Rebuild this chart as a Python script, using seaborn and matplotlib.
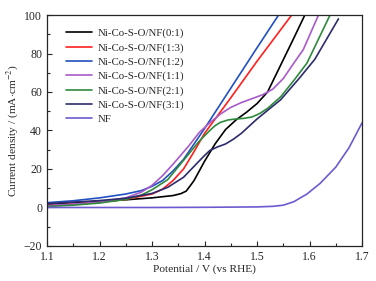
import pandas as pd
import matplotlib
matplotlib.use("Agg")
import matplotlib.pyplot as plt
from matplotlib.ticker import MultipleLocator
import seaborn as sns

# data (potential V vs RHE, current density mA/cm2)
labels = ["Ni-Co-S-O/NF(0:1)", "Ni-Co-S-O/NF(1:3)", "Ni-Co-S-O/NF(1:2)",
          "Ni-Co-S-O/NF(1:1)", "Ni-Co-S-O/NF(2:1)", "Ni-Co-S-O/NF(3:1)", "NF"]

v_01 = [1.10, 1.15, 1.20, 1.25, 1.30, 1.34, 1.355, 1.365, 1.372, 1.38, 1.39, 1.40, 1.42, 1.44, 1.46, 1.48, 1.50, 1.52, 1.545, 1.57, 1.591]
j_01 = [1.5, 2.5, 3.2, 4.0, 5.0, 6.2, 7.2, 8.5, 11, 14, 19, 24, 33, 40.5, 45.5, 49.5, 54, 60, 74, 88, 100]

v_13 = [1.10, 1.15, 1.20, 1.25, 1.30, 1.32, 1.34, 1.36, 1.38, 1.40, 1.45, 1.50, 1.566]
j_13 = [1.0, 1.8, 2.8, 4.2, 7.0, 9.5, 14, 20, 29, 38.5, 57, 76, 100]

v_12 = [1.10, 1.15, 1.20, 1.25, 1.28, 1.30, 1.32, 1.34, 1.36, 1.38, 1.40, 1.45, 1.50, 1.541]
j_12 = [2.5, 3.5, 5.0, 7.0, 8.8, 11, 14, 19, 25, 33, 41, 62, 83, 100]

v_11 = [1.10, 1.15, 1.20, 1.25, 1.28, 1.30, 1.32, 1.34, 1.37, 1.39, 1.41, 1.43, 1.45, 1.47, 1.49, 1.51, 1.53, 1.55, 1.57, 1.588, 1.617]
j_11 = [1.0, 1.8, 2.8, 5.0, 8.0, 11.5, 16.5, 22.5, 32, 39, 44, 48.5, 52, 54.5, 56.5, 58.5, 61.5, 67, 75, 82, 100]

v_21 = [1.10, 1.15, 1.20, 1.25, 1.28, 1.30, 1.33, 1.36, 1.39, 1.41, 1.42, 1.43, 1.445, 1.46, 1.475, 1.49, 1.505, 1.52, 1.545, 1.57, 1.595, 1.639]
j_21 = [0.5, 1.2, 2.3, 4.2, 6.5, 9.2, 14.5, 24.5, 34.5, 40, 42.5, 44.2, 45.5, 46, 46.3, 47, 48.8, 51.5, 57.5, 66, 75, 100]

v_31 = [1.10, 1.15, 1.20, 1.25, 1.30, 1.33, 1.36, 1.385, 1.40, 1.41, 1.425, 1.44, 1.455, 1.47, 1.50, 1.545, 1.58, 1.61, 1.655]
j_31 = [2.0, 2.8, 3.6, 4.8, 7.3, 10.5, 15.7, 22.8, 27, 29.6, 31.5, 33, 35.5, 38.5, 46, 56, 67, 77, 98]

v_nf = [1.10, 1.20, 1.30, 1.40, 1.50, 1.53, 1.55, 1.57, 1.595, 1.62, 1.65, 1.675, 1.70]
j_nf = [0.0, 0.0, 0.0, 0.1, 0.3, 0.6, 1.2, 3.0, 7.0, 12.5, 21, 31, 44]

colors = ["#000000", "#ff1f1f", "#2150c0", "#a95ac8", "#2f8a3c", "#2c2c6c", "#6d5ad0"]

series = [(v_01, j_01), (v_13, j_13), (v_12, j_12), (v_11, j_11),
          (v_21, j_21), (v_31, j_31), (v_nf, j_nf)]
frames = []
for name, (v, j) in zip(labels, series):
    frames.append(pd.DataFrame({"V": v, "J": j, "sample": name}))
df = pd.concat(frames, ignore_index=True)

sns.set_theme(style="ticks")
plt.rcParams["font.family"] = ["Liberation Serif", "DejaVu Serif"]
plt.rcParams["mathtext.fontset"] = "stix"

fig = plt.figure(figsize=(3.76, 2.81), dpi=100)
ax = fig.add_axes([0.125, 0.1246, 0.838, 0.822])

sns.lineplot(data=df, x="V", y="J", hue="sample", hue_order=labels,
             palette=dict(zip(labels, colors)), sort=False, estimator=None,
             linewidth=1.2, ax=ax)

ax.set_xlim(1.1, 1.7)
ax.set_ylim(-20, 100)
ax.xaxis.set_major_locator(MultipleLocator(0.1))
ax.xaxis.set_minor_locator(MultipleLocator(0.05))
ax.yaxis.set_major_locator(MultipleLocator(20))
ax.yaxis.set_minor_locator(MultipleLocator(10))
ax.tick_params(which="both", direction="in", labelsize=8.5, width=0.8)
ax.tick_params(which="major", length=3.5)
ax.tick_params(which="minor", length=2)
for s in ax.spines.values():
    s.set_linewidth(0.9)

ax.set_xlabel("Potential / V (vs RHE)", fontsize=8.2, labelpad=1)
ax.set_ylabel("Current density / (mA$\\cdot$cm$^{-2}$)", fontsize=8.2, labelpad=2)

ax.legend(loc="upper left", frameon=False, fontsize=7.8, handlelength=2.4,
          handletextpad=0.6, labelspacing=0.42, borderaxespad=0.3,
          bbox_to_anchor=(0.035, 0.975))

fig.savefig("out.png", dpi=100)
